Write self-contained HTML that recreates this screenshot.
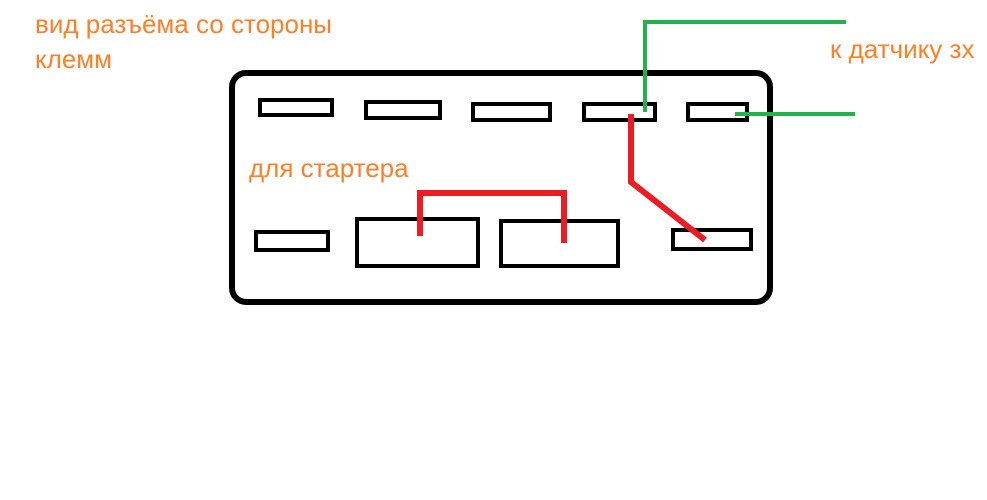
<!DOCTYPE html>
<html><head><meta charset="utf-8"><style>
html,body{margin:0;padding:0;background:#fff;}
body{width:987px;height:500px;position:relative;overflow:hidden;font-family:"Liberation Sans",sans-serif;}
.t{position:absolute;color:#ff7f27;font-size:26px;line-height:30px;white-space:nowrap;}
</style></head><body>
<svg width="987" height="500" style="position:absolute;left:0;top:0">
<rect x="232" y="73" width="538" height="229" rx="14" fill="none" stroke="#000" stroke-width="6"/>
<g fill="none" stroke="#000" stroke-width="4">
<rect x="260" y="100" width="72" height="15"/>
<rect x="366" y="102" width="74" height="16"/>
<rect x="473" y="104" width="77" height="16"/>
<rect x="584" y="104" width="71" height="16"/>
<rect x="688" y="104" width="59" height="16"/>
<rect x="256" y="232" width="72" height="18"/>
<rect x="357" y="219" width="121" height="47"/>
<rect x="501" y="221" width="117" height="45"/>
<rect x="673" y="230" width="78" height="19"/>
</g>
<g fill="none" stroke="#22b14c" stroke-width="4">
<polyline points="846,22 645,22 645,112"/>
<line x1="735" y1="114" x2="855" y2="114"/>
</g>
<g fill="none" stroke="#ed1c24" stroke-width="6">
<polyline points="420,236 420,193 564,193 564,243"/>
<polyline points="631,114 631,182 705,240"/>
</g>
</svg>
<div class="t" style="left:35px;top:9px">вид разъёма со стороны</div>
<div class="t" style="left:35px;top:44px">клемм</div>
<div class="t" style="left:830px;top:34px">к датчику зх</div>
<div class="t" style="left:249px;top:153px">для стартера</div>
</body></html>
